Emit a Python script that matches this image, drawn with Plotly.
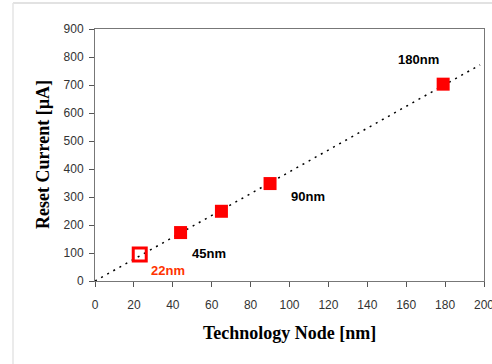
import plotly.graph_objects as go

node_x = [44, 65, 90, 179]
current_y = [173, 249, 348, 703]
hollow_x = [23]
hollow_y = [95]
trend_x = [0, 198]
trend_y = [0, 772]
label_text = ["180nm", "90nm", "45nm", "22nm"]
label_x = [166.5, 109.5, 58.6, 37.5]
label_y = [792, 302, 100, 36]
label_color = ["black", "black", "black", "#ff3300"]

L, R, T, B = 95, 8, 29, 83
PW, PH = 492 - L - R, 364 - T - B

fig = go.Figure()
fig.add_trace(go.Scatter(x=trend_x, y=trend_y, mode="lines",
                         line=dict(color="black", width=1.5, dash="2px,5px"),
                         showlegend=False, hoverinfo="skip"))
fig.add_trace(go.Scatter(x=node_x, y=current_y, mode="markers",
                         marker=dict(symbol="square", size=13, color="#ff0000",
                                     line=dict(width=0)),
                         showlegend=False))
fig.add_trace(go.Scatter(x=hollow_x, y=hollow_y, mode="markers",
                         marker=dict(symbol="square-open", size=13, color="#ff0000",
                                     line=dict(width=3, color="#ff0000")),
                         showlegend=False))
for t, x, y, c in zip(label_text, label_x, label_y, label_color):
    fig.add_annotation(x=x, y=y, text="<b>" + t + "</b>", showarrow=False,
                       font=dict(family="Liberation Sans, Arial", size=13, color=c))

fig.add_annotation(xref="paper", yref="paper", x=0.5, y=-(333 - (364 - B)) / PH,
                   xanchor="center", yanchor="middle",
                   text="<b>Technology Node [nm]</b>", showarrow=False,
                   font=dict(family="Liberation Serif, Times New Roman", size=18, color="black"))
fig.add_annotation(xref="paper", yref="paper", x=-(L - 43) / PW, y=0.5,
                   xanchor="center", yanchor="middle",
                   text="<b>Reset Current [µA]</b>", showarrow=False, textangle=-90,
                   font=dict(family="Liberation Serif, Times New Roman", size=18, color="black"))

fig.update_layout(
    width=492, height=364,
    margin=dict(l=L, r=R, t=T, b=B),
    paper_bgcolor="white", plot_bgcolor="white",
    font=dict(family="Liberation Sans, Arial", size=12, color="#333"),
    xaxis=dict(range=[0, 200], tickvals=list(range(0, 201, 20)), automargin=False,
               showgrid=False, zeroline=False, showline=True, linecolor="#777",
               linewidth=1, mirror=True, ticks="outside", ticklen=5, tickcolor="#555",
               ticklabelstandoff=8, ticklabeloverflow="allow"),
    yaxis=dict(range=[0, 900], tickvals=list(range(0, 901, 100)), automargin=False,
               showgrid=False, zeroline=False, showline=True, linecolor="#777",
               linewidth=1, mirror=True, ticks="outside", ticklen=5, tickcolor="#555",
               ticklabelstandoff=3),
)
fig.add_shape(type="line", xref="paper", yref="paper", x0=-(L - 13) / PW, x1=1 + R / PW,
              y0=1 + (T - 3) / PH, y1=1 + (T - 3) / PH,
              line=dict(color="#d8d8d8", width=1.5))
fig.add_shape(type="line", xref="paper", yref="paper", x0=-(L - 13) / PW, x1=-(L - 13) / PW,
              y0=1 + (T - 3) / PH, y1=-B / PH,
              line=dict(color="#e4e4e4", width=1.5))
fig.write_html("out.html", config={"displayModeBar": False})

with open("out.html", "r", encoding="utf-8") as f:
    html = f.read()
html = html.replace("<head>", "<head><style>html,body{margin:0;padding:0;overflow:hidden;}</style>", 1)
with open("out.html", "w", encoding="utf-8") as f:
    f.write(html)
